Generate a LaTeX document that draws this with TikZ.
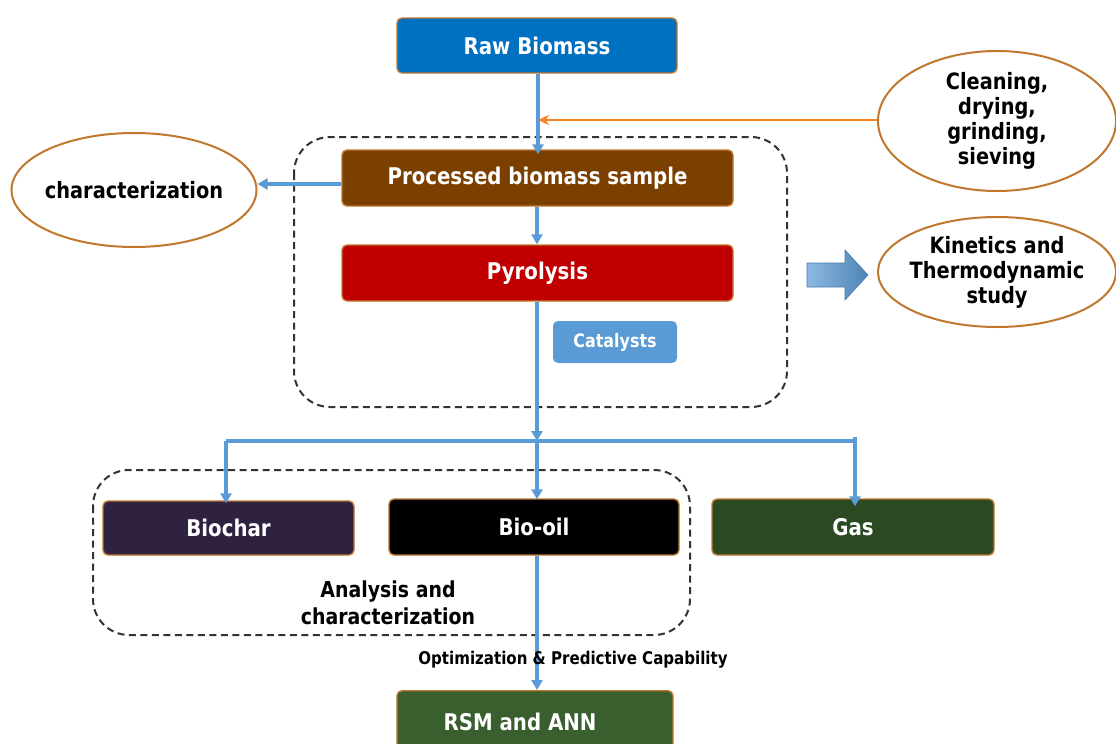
\documentclass[tikz,border=0pt]{standalone}
\usepackage{fontspec}
\setmainfont{DejaVu Sans}[FakeStretch=0.86]
\usetikzlibrary{shapes.geometric,arrows.meta}
\definecolor{rawblue}{HTML}{0070C0}
\definecolor{procbrown}{HTML}{7B3F00}
\definecolor{pyrored}{HTML}{C00000}
\definecolor{catblue}{HTML}{5B9BD5}
\definecolor{charpurple}{HTML}{2F2240}
\definecolor{gasgreen}{HTML}{2B4A22}
\definecolor{rsmgreen}{HTML}{3A5F2E}
\definecolor{edgeorange}{HTML}{C0782F}
\definecolor{conblue}{HTML}{5B9BD5}
\definecolor{linkorange}{HTML}{F58220}
\definecolor{dashgray}{HTML}{333333}
\begin{document}
\begin{tikzpicture}[x=1pt,y=-1pt,
  box/.style={draw=edgeorange,line width=1.4pt,rounded corners=5pt,text=white,
    font=\bfseries\fontsize{23}{27}\selectfont,inner sep=0pt},
  oval/.style={ellipse,draw=edgeorange,line width=2pt,fill=white,align=center,
    font=\bfseries\fontsize{22.5}{25}\selectfont,inner xsep=-30pt,inner ysep=-30pt},
  con/.style={draw=conblue,line width=3.4pt,-{Triangle[length=10pt,width=11pt]}},
  plain/.style={draw=conblue,line width=3.4pt},
  grp/.style={draw=dashgray,dashed,line width=2pt,dash pattern=on 7pt off 4.5pt,rounded corners=36pt}
]
\useasboundingbox (0,0) rectangle (1116,744);
\fill[white] (0,0) rectangle (1116,744);

% dashed groups
\draw[grp] (294,137) rectangle (787,407);
\draw[grp] (93,470) rectangle (690,635);

% boxes
\node[box,fill=rawblue,minimum width=280pt,minimum height=55pt] (raw) at (537,45.5) {Raw Biomass};
\node[box,fill=procbrown,minimum width=391pt,minimum height=56pt] (proc) at (537.5,178) {Processed biomass sample};
\node[box,fill=pyrored,minimum width=391pt,minimum height=56pt] (pyro) at (537.5,273) {Pyrolysis};
\node[box,draw=none,fill=catblue,minimum width=124pt,minimum height=42pt,font=\bfseries\fontsize{18.5}{22}\selectfont] (cat) at (615,342) {Catalysts};
\node[box,fill=charpurple,minimum width=251pt,minimum height=54pt] (char) at (228.5,528) {Biochar};
\node[box,fill=black,minimum width=290pt,minimum height=56pt] (oil) at (534,527) {Bio-oil};
\node[box,fill=gasgreen,minimum width=282pt,minimum height=56pt] (gas) at (853,527) {Gas};
\node[box,fill=rsmgreen,minimum width=276pt,minimum height=64pt,anchor=north] (rsm) at (535,690) {};
\node[text=white,font=\bfseries\fontsize{23}{27}\selectfont] (rsmt) at (520,722) {RSM and ANN};

% ellipses
\node[oval,minimum width=245pt,minimum height=114pt] (charz) at (134,190) {characterization};
\node[oval,minimum width=238pt,minimum height=140pt] (clean) at (997,121) {Cleaning,\\drying,\\grinding,\\sieving};
\node[oval,minimum width=238pt,minimum height=110pt] (kin) at (997,272) {Kinetics and\\Thermodynamic\\study};

% texts
\node[align=center,font=\bfseries\fontsize{22}{27}\selectfont] (anal) at (388,603) {Analysis and\\characterization};

% block arrow
\shade[left color=catblue!70!white,right color=catblue!85!black,draw=catblue!80!black,line width=0.6pt]
  (807,263) -- (845,263) -- (845,250) -- (868,275) -- (845,300) -- (845,287) -- (807,287) -- cycle;

% connectors
\coordinate (oj) at (538,120);
\coordinate (sp) at (537,441);
\coordinate (sl) at (226,441);
\coordinate (sr) at (855,441);
\coordinate (srt) at (855,437);
\coordinate (cy) at (300,184);
\draw[con] (raw.south -| oj) -- ([yshift=-5pt]proc.north -| oj);
\draw[draw=linkorange,line width=2.6pt,-{Stealth[length=11pt,width=10pt]}] (clean.west |- oj) -- (oj);
\draw[con] (proc.west |- cy) -- (charz.east |- cy);
\draw[con] (proc.south -| sp) -- (pyro.north -| sp);
\draw[con] (pyro.south -| sp) -- (sp);
\draw[plain] (sl) -- (sr);
\draw[plain] (sr) -- (srt);
\draw[con] (sl) -- ([yshift=-3pt]char.north -| sl);
\draw[con] (sp) -- ([yshift=-1pt]oil.north -| sp);
\draw[con] (sr) -- ([yshift=-8pt]gas.north -| sr);
\draw[con] (oil.south -| sp) -- (rsm.north -| sp);

\node[font=\bfseries\fontsize{17.5}{20}\selectfont] (opt) at (573,660) {Optimization \& Predictive Capability};
\end{tikzpicture}
\end{document}
